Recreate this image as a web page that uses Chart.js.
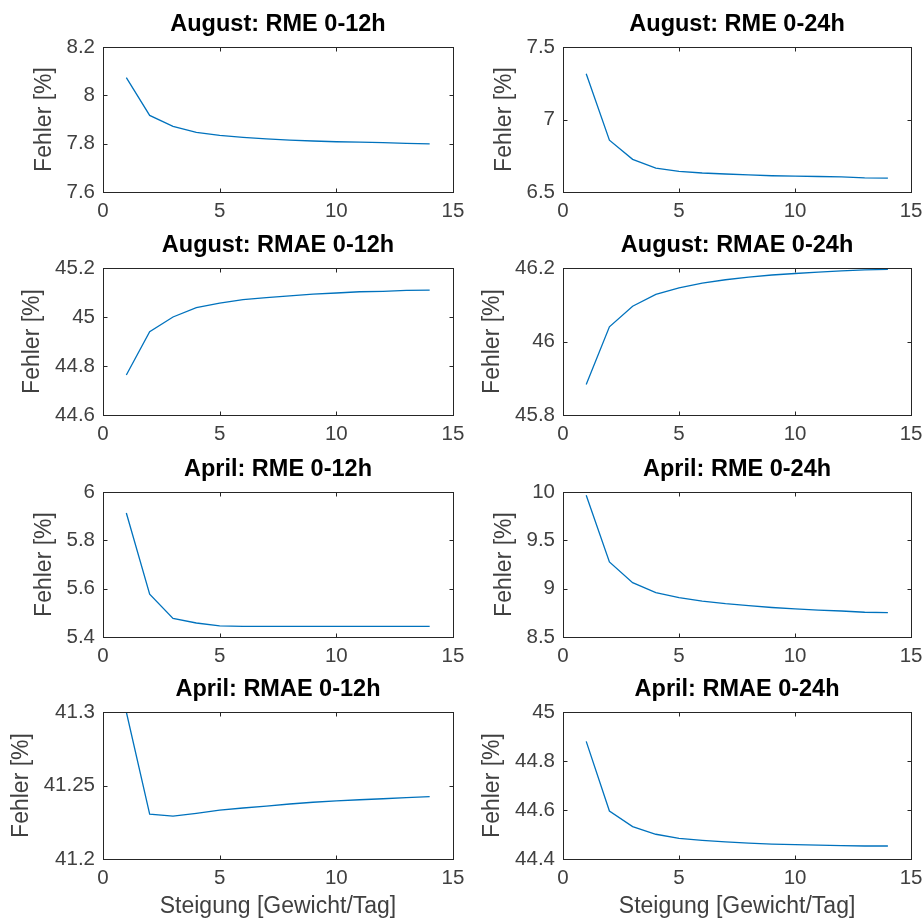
<!DOCTYPE html>
<html>
<head>
<meta charset="utf-8">
<script src="https://cdn.jsdelivr.net/npm/chart.js@4"></script>
<style>
  body { margin: 0; background: #fff; }
  #fig { position: relative; width: 923px; height: 920px; overflow: hidden; background: #fff; }
  #fig canvas { position: absolute; }
</style>
</head>
<body>
<div id="fig"></div>
<script>
// Steigung (x) values, same for every panel
const steps = [1, 2, 3, 4, 5, 6, 7, 8, 9, 10, 11, 12, 13, 14];
const xTicks = [0, 5, 10, 15];

const titles = [
  "August: RME 0-12h", "August: RME 0-24h",
  "August: RMAE 0-12h", "August: RMAE 0-24h",
  "April: RME 0-12h", "April: RME 0-24h",
  "April: RMAE 0-12h", "April: RMAE 0-24h"
];

const augRme12 = [8.073, 7.917, 7.872, 7.847, 7.834, 7.826, 7.820, 7.815, 7.811, 7.808, 7.806, 7.804, 7.801, 7.799];
const augRme24 = [7.316, 6.857, 6.725, 6.665, 6.642, 6.631, 6.624, 6.618, 6.612, 6.609, 6.607, 6.605, 6.598, 6.595];
const augRmae12 = [44.763, 44.940, 45.000, 45.038, 45.057, 45.071, 45.079, 45.086, 45.093, 45.098, 45.103, 45.105, 45.109, 45.110];
const augRmae24 = [45.883, 46.040, 46.096, 46.128, 46.146, 46.159, 46.168, 46.175, 46.181, 46.185, 46.189, 46.192, 46.195, 46.196];
const aprRme12 = [5.913, 5.577, 5.477, 5.458, 5.446, 5.444, 5.444, 5.444, 5.444, 5.444, 5.444, 5.444, 5.444, 5.444];
const aprRme24 = [9.966, 9.276, 9.062, 8.959, 8.907, 8.872, 8.845, 8.824, 8.805, 8.790, 8.777, 8.769, 8.756, 8.752];
const aprRmae12 = [41.300, 41.2305, 41.2292, 41.2311, 41.2332, 41.2347, 41.2360, 41.2374, 41.2386, 41.2395, 41.2403, 41.2410, 41.2418, 41.2425];
const aprRmae24 = [44.880, 44.596, 44.532, 44.501, 44.484, 44.476, 44.470, 44.465, 44.461, 44.459, 44.457, 44.455, 44.453, 44.453];

const augRme12Ticks = [7.6, 7.8, 8, 8.2];
const augRme24Ticks = [6.5, 7, 7.5];
const augRmae12Ticks = [44.6, 44.8, 45, 45.2];
const augRmae24Ticks = [45.8, 46, 46.2];
const aprRme12Ticks = [5.4, 5.6, 5.8, 6];
const aprRme24Ticks = [8.5, 9, 9.5, 10];
const aprRmae12Ticks = [41.2, 41.25, 41.3];
const aprRmae24Ticks = [44.4, 44.6, 44.8, 45];

const series = [augRme12, augRme24, augRmae12, augRmae24, aprRme12, aprRme24, aprRmae12, aprRmae24];
const yTicks = [augRme12Ticks, augRme24Ticks, augRmae12Ticks, augRmae24Ticks, aprRme12Ticks, aprRme24Ticks, aprRmae12Ticks, aprRmae24Ticks];

// layout of the 4x2 grid
const rowTop = [47, 268, 492, 712];
const rowH = [145, 147, 145, 147];
const colLeft = [0, 460];
const canvasW = [480, 470];
const plotW = [350, 349];
const plotLeft = 103;
const titleSpace = 47;
const ylabelX = [45, 45, 33, 33, 45, 45, 22, 33];

const font = "'Liberation Sans', Arial, Helvetica, sans-serif";
const axisColor = '#262626';
const textColor = '#404040';
const labelSize = 23;

const fmt = v => String(parseFloat(Number(v).toFixed(4)));

const boxPlugin = {
  id: 'matlabBox',
  afterDraw(chart) {
    const { ctx, chartArea: a, scales: { x, y } } = chart;
    const L = Math.round(a.left) + 0.5, R = Math.round(a.right) + 0.5;
    const T = Math.round(a.top) + 0.5, B = Math.round(a.bottom) + 0.5;
    const tl = 4;
    ctx.save();
    ctx.strokeStyle = axisColor;
    ctx.lineWidth = 1;
    ctx.strokeRect(L, T, R - L, B - T);
    ctx.beginPath();
    x.ticks.forEach(t => {
      const px = Math.round(x.getPixelForValue(t.value)) + 0.5;
      ctx.moveTo(px, B); ctx.lineTo(px, B - tl);
      ctx.moveTo(px, T); ctx.lineTo(px, T + tl);
    });
    y.ticks.forEach(t => {
      const py = Math.round(y.getPixelForValue(t.value)) + 0.5;
      ctx.moveTo(L, py); ctx.lineTo(L + tl, py);
      ctx.moveTo(R, py); ctx.lineTo(R - tl, py);
    });
    ctx.stroke();
    ctx.restore();
  }
};

const fig = document.getElementById('fig');

series.forEach((vals, i) => {
  const col = i % 2, row = Math.floor(i / 2);
  const last = row === 3;
  const top = rowTop[row] - titleSpace;
  const xH = last ? 920 - rowTop[row] - rowH[row] : 38;
  const h = titleSpace + rowH[row] + xH;
  const ticks = yTicks[i];

  const canvas = document.createElement('canvas');
  canvas.width = canvasW[col];
  canvas.height = h;
  canvas.style.left = colLeft[col] + 'px';
  canvas.style.top = top + 'px';
  fig.appendChild(canvas);

  new Chart(canvas, {
    type: 'line',
    data: {
      datasets: [{
        data: steps.map((s, k) => ({ x: s, y: vals[k] })),
        borderColor: '#0072BD',
        borderWidth: 1.3,
        pointRadius: 0,
        tension: 0,
        fill: false
      }]
    },
    options: {
      responsive: false,
      animation: false,
      layout: { padding: { left: 0, top: 0, bottom: 0, right: canvasW[col] - plotLeft - plotW[col] } },
      plugins: {
        legend: { display: false },
        tooltip: { enabled: false },
        title: {
          display: true,
          text: titles[i],
          fullSize: false,
          color: '#000',
          font: { family: font, size: 23.5, weight: 'bold' },
          padding: { top: 10.4, bottom: 8.4 }
        }
      },
      scales: {
        x: {
          type: 'linear',
          min: xTicks[0],
          max: xTicks[xTicks.length - 1],
          afterBuildTicks: s => { s.ticks = xTicks.map(v => ({ value: v })); },
          afterFit: s => { s.height = xH; },
          grid: { display: false, drawTicks: false },
          border: { display: false },
          ticks: {
            color: textColor,
            padding: 7.5,
            maxRotation: 0,
            font: { family: font, size: 20.5 },
            callback: fmt
          },
          title: {
            display: last,
            text: 'Steigung [Gewicht/Tag]',
            color: textColor,
            font: { family: font, size: labelSize },
            padding: { top: 0, bottom: 0 }
          }
        },
        y: {
          type: 'linear',
          min: ticks[0],
          max: ticks[ticks.length - 1],
          afterBuildTicks: s => { s.ticks = ticks.map(v => ({ value: v })); },
          afterFit: s => { s.width = plotLeft; },
          grid: { display: false, drawTicks: false },
          border: { display: false },
          ticks: {
            color: textColor,
            padding: 8,
            font: { family: font, size: 20.5 },
            callback: fmt
          },
          title: {
            display: true,
            text: 'Fehler [%]',
            color: textColor,
            font: { family: font, size: labelSize },
            padding: { top: ylabelX[i] - labelSize * 0.6, bottom: 0 }
          }
        }
      }
    },
    plugins: [boxPlugin]
  });
});
</script>
</body>
</html>
